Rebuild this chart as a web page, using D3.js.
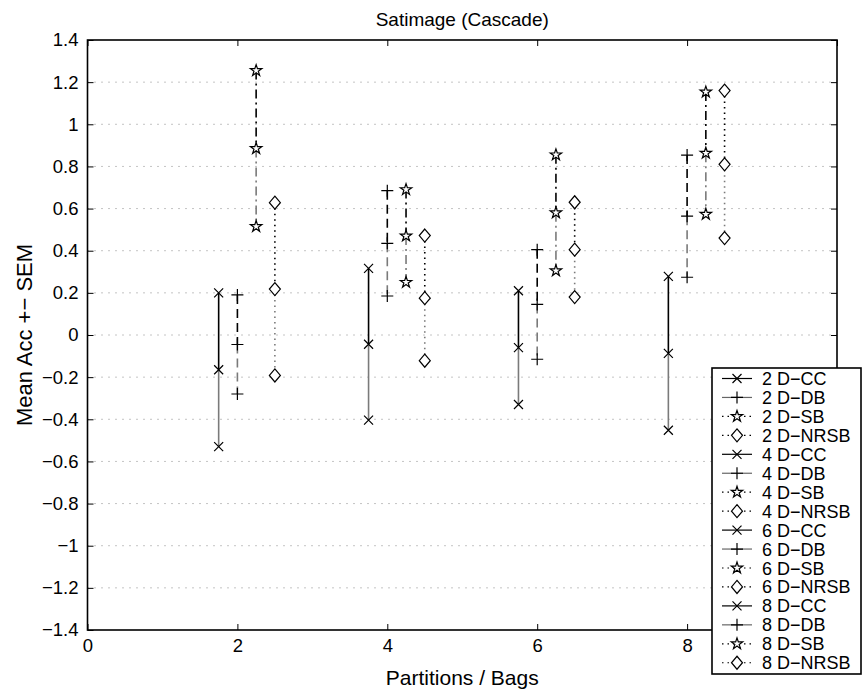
<!DOCTYPE html>
<html><head><meta charset="utf-8">
<script src="https://cdn.jsdelivr.net/npm/d3@7"></script>
<style>body{margin:0;background:#fff}svg{display:block;font-family:"Liberation Sans",Arial,sans-serif}</style>
</head><body><svg id="c" width="864" height="693"></svg>
<script>
const groups = [2, 4, 6, 8];
const methods = ["CC", "DB", "SB", "NRSB"];
const offsets = [-0.25, 0, 0.25, 0.5];
// means[method][group], sems[method][group]
const meanCC = [-0.165, -0.044, -0.06, -0.087];
const semCC = [0.365, 0.36, 0.27, 0.365];
const meanDB = [-0.045, 0.435, 0.145, 0.564];
const semDB = [0.235, 0.25, 0.26, 0.29];
const meanSB = [0.885, 0.47, 0.58, 0.863];
const semSB = [0.37, 0.22, 0.275, 0.29];
const meanNRSB = [0.218, 0.175, 0.405, 0.81];
const semNRSB = [0.41, 0.297, 0.225, 0.35];
const yTicks = [-1.4,-1.2,-1,-0.8,-0.6,-0.4,-0.2,0,0.2,0.4,0.6,0.8,1,1.2,1.4];
const xTicks = [0, 2, 4, 6, 8, 10];
const xTickLabels = ["0", "2", "4", "6", "8", ""]; // "10" is hidden behind the legend
const title = "Satimage (Cascade)";
const xLabel = "Partitions / Bags";
const yLabel = "Mean Acc +\u2212 SEM";

const means = [meanCC, meanDB, meanSB, meanNRSB];
const sems = [semCC, semDB, semSB, semNRSB];
const dashes = [null, "9,5", "9,4,2,4", "1.5,4"];

const L = 87.5, R = 837, T = 40, B = 630;
const svg = d3.select("#c");
const x = d3.scaleLinear().domain([0, 10]).range([L, R]);
const y = d3.scaleLinear().domain([-1.4, 1.4]).range([B, T]);
const fmt = v => { let s = d3.format("")(+v.toFixed(1)); return s.replace("-", "\u2212"); };

// grid
svg.append("g").selectAll("line").data(yTicks.slice(1, -1)).join("line")
  .attr("x1", L).attr("x2", R).attr("y1", d => y(d)).attr("y2", d => y(d))
  .attr("stroke", "#888").attr("stroke-width", 1).attr("stroke-dasharray", "1,6");

// axes with inward ticks
const ax = svg.append("g");
ax.append("g").attr("transform", `translate(0,${B})`)
  .call(d3.axisBottom(x).tickValues(xTicks).tickSize(-6).tickPadding(9).tickFormat((d, i) => xTickLabels[i]));
ax.append("g").attr("transform", `translate(0,${T})`)
  .call(d3.axisTop(x).tickValues(xTicks).tickSize(-6).tickFormat(""));
ax.append("g").attr("transform", `translate(${L},0)`)
  .call(d3.axisLeft(y).tickValues(yTicks).tickSize(-6).tickPadding(9).tickFormat(fmt));
ax.append("g").attr("transform", `translate(${R},0)`)
  .call(d3.axisRight(y).tickValues(yTicks).tickSize(-6).tickFormat(""));
ax.selectAll(".domain").remove();
ax.selectAll("line").attr("stroke", "#000").attr("stroke-width", 1);
ax.selectAll("text").attr("font-size", 18.5).attr("fill", "#000").attr("font-family", "Liberation Sans, Arial, sans-serif");
svg.append("rect").attr("x", L).attr("y", T).attr("width", R - L).attr("height", B - T)
  .attr("fill", "none").attr("stroke", "#000").attr("stroke-width", 1.6);

// markers
function marker(g, m, cx, cy) {
  if (m === 0) {
    const s = 4.5;
    g.append("path").attr("d", `M${cx-s},${cy-s}L${cx+s},${cy+s}M${cx-s},${cy+s}L${cx+s},${cy-s}`)
      .attr("stroke", "#000").attr("stroke-width", 1.2).attr("fill", "none");
  } else if (m === 1) {
    const s = 6;
    g.append("path").attr("d", `M${cx-s},${cy}L${cx+s},${cy}M${cx},${cy-s}L${cx},${cy+s}`)
      .attr("stroke", "#000").attr("stroke-width", 1.2).attr("fill", "none");
  } else if (m === 2) {
    g.append("path").attr("d", d3.symbol(d3.symbolStar, 40)()).attr("transform", `translate(${cx},${cy})`)
      .attr("stroke", "#000").attr("stroke-width", 1.2).attr("fill", "#fff");
  } else {
    const w = 5.5, h = 6.5;
    g.append("path").attr("d", `M${cx},${cy-h}L${cx+w},${cy}L${cx},${cy+h}L${cx-w},${cy}Z`)
      .attr("stroke", "#000").attr("stroke-width", 1.2).attr("fill", "#fff");
  }
}

// series
const plot = svg.append("g");
groups.forEach((gv, gi) => {
  methods.forEach((mn, mi) => {
    const cx = x(gv + offsets[mi]);
    const m = means[mi][gi], s = sems[mi][gi];
    const gg = plot.append("g");
    gg.append("line").attr("x1", cx).attr("x2", cx).attr("y1", y(m)).attr("y2", y(m - s))
      .attr("stroke", "#7a7a7a").attr("stroke-width", 1.6).attr("stroke-dasharray", dashes[mi]);
    gg.append("line").attr("x1", cx).attr("x2", cx).attr("y1", y(m + s)).attr("y2", y(m))
      .attr("stroke", "#000").attr("stroke-width", 1.6).attr("stroke-dasharray", dashes[mi]);
    [m + s, m, m - s].forEach(v => marker(gg, mi, cx, y(v)));
  });
});

// titles
svg.append("text").attr("x", (L + R) / 2).attr("y", 26).attr("text-anchor", "middle")
  .attr("font-size", 19).text(title);
svg.append("text").attr("x", (L + R) / 2).attr("y", 685).attr("text-anchor", "middle")
  .attr("font-size", 21).text(xLabel);
svg.append("text").attr("transform", `translate(32,${(T + B) / 2}) rotate(-90)`).attr("text-anchor", "middle")
  .attr("font-size", 22).text(yLabel);

// legend
const lg = svg.append("g");
lg.append("rect").attr("x", 712).attr("y", 368).attr("width", 149).attr("height", 306)
  .attr("fill", "#fff").attr("stroke", "#000").attr("stroke-width", 1.6);
const entries = [];
groups.forEach(gv => methods.forEach((mn, mi) => entries.push({label: `${gv} D\u2212${mn}`, mi})));
const legDash = [null, null, "1.5,4", "1.5,4"];
const legCol = ["#000", "#666", "#000", "#000"];
entries.forEach((e, i) => {
  const cy = 378.5 + i * 18.95;
  lg.append("line").attr("x1", 722).attr("x2", 752).attr("y1", cy).attr("y2", cy)
    .attr("stroke", legCol[e.mi]).attr("stroke-width", 1.2).attr("stroke-dasharray", legDash[e.mi]);
  marker(lg, e.mi, 737, cy);
  lg.append("text").attr("x", 762).attr("y", cy + 6.5).attr("font-size", 18).text(e.label);
});
</script></body></html>
